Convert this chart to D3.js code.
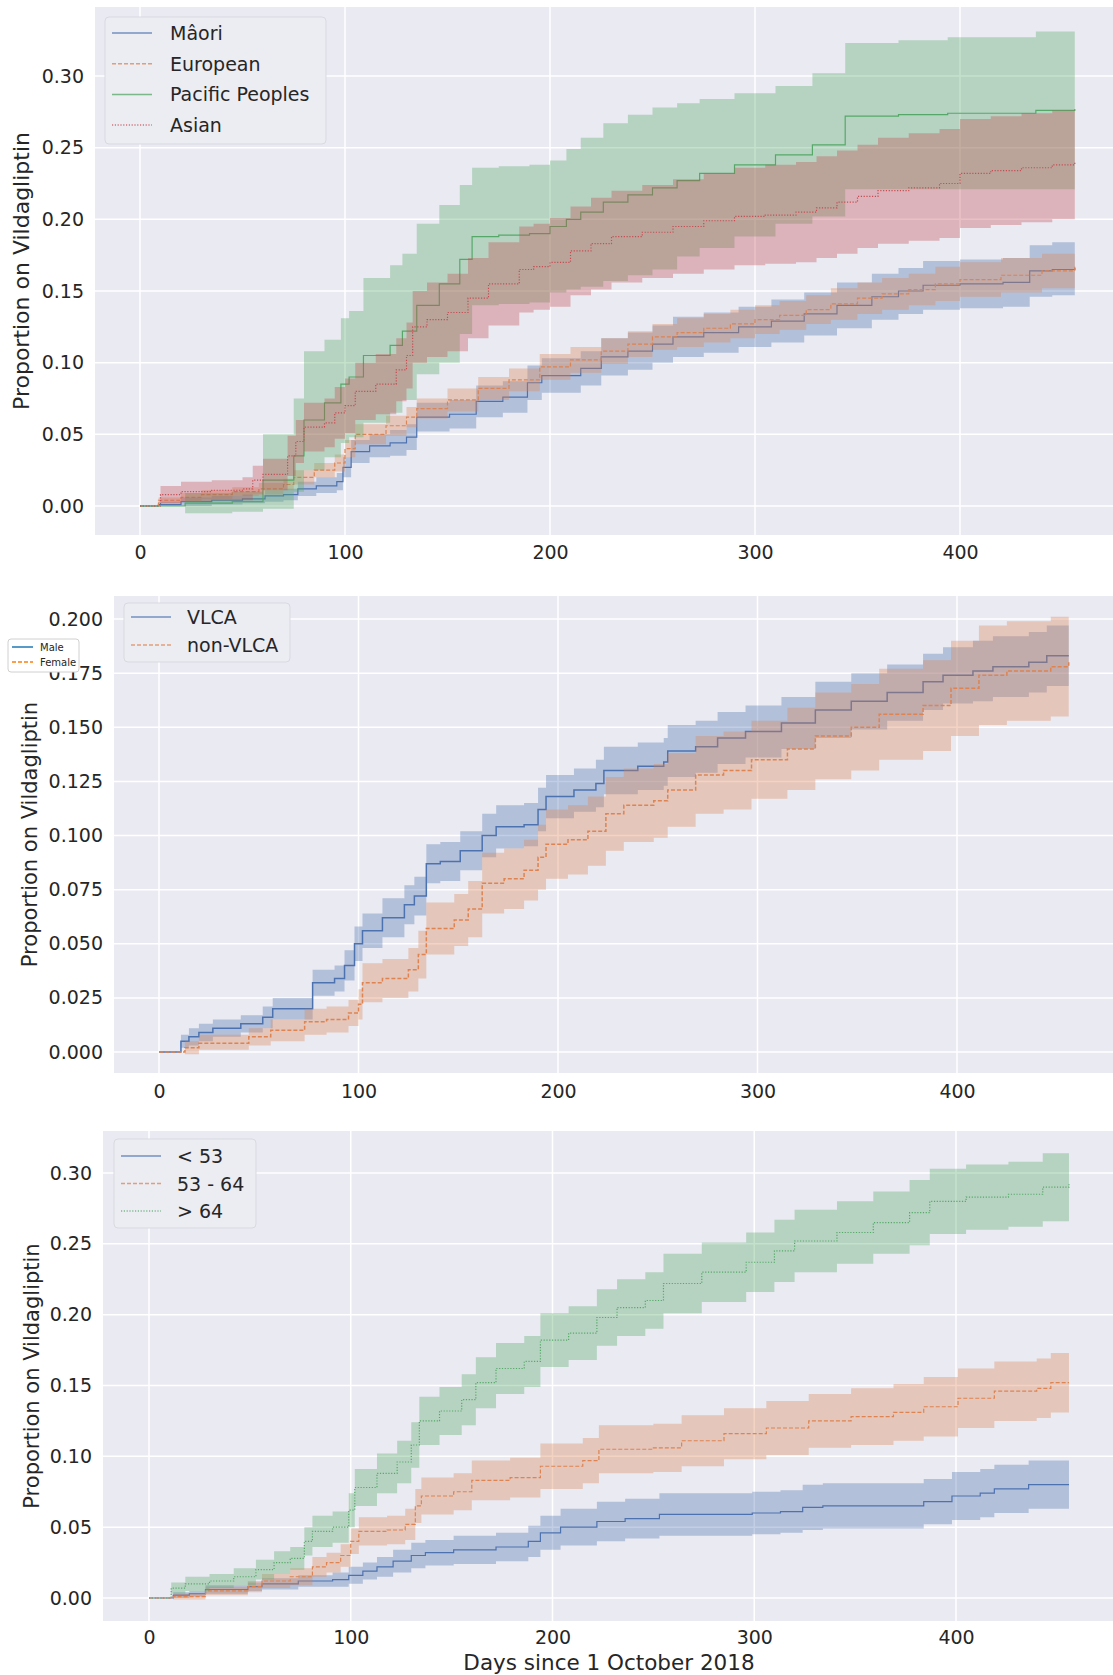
<!DOCTYPE html>
<html>
<head>
<meta charset="utf-8">
<script src="https://cdn.jsdelivr.net/npm/d3@7"></script>
<style>
  body { margin: 0; background: #fff; }
  svg text { font-family: "DejaVu Sans", sans-serif; fill: #262626; }
</style>
</head>
<body>
<div id="chart"></div>
<script>
/////////////////////////////////////////////////////////
// data : rows are [day, proportion, lower, upper]
/////////////////////////////////////////////////////////
const dayTicks = [0, 100, 200, 300, 400];
const ethnicTicks = [0, 0.05, 0.10, 0.15, 0.20, 0.25, 0.30];
const vlcaTicks = [0, 0.025, 0.05, 0.075, 0.10, 0.125, 0.15, 0.175, 0.20];
const ageTicks = [0, 0.05, 0.10, 0.15, 0.20, 0.25, 0.30];

const ethnicGroups = ["Mâori", "European", "Pacific Peoples", "Asian"];
const vlcaGroups = ["VLCA", "non-VLCA"];
const ageGroups = ["< 53", "53 - 64", "> 64"];
const sexGroups = ["Male", "Female"];

const maori = [
  [0,0,0,0],[9,0.001,0,0.003],[20,0.003,0,0.006],[35,0.004,0.001,0.007],
  [50,0.005,0.002,0.008],[61,0.007,0.003,0.011],[70,0.008,0.004,0.012],
  [77,0.012,0.007,0.017],[86,0.014,0.009,0.020],[96,0.017,0.011,0.023],
  [99,0.027,0.020,0.034],[103,0.038,0.030,0.046],[112,0.042,0.034,0.050],
  [122,0.044,0.035,0.053],[130,0.048,0.039,0.057],[135,0.062,0.052,0.072],
  [151,0.064,0.054,0.074],[164,0.073,0.062,0.084],[177,0.076,0.065,0.087],
  [189,0.086,0.074,0.098],[196,0.091,0.079,0.103],[215,0.096,0.084,0.108],
  [225,0.104,0.091,0.117],[238,0.108,0.095,0.121],[250,0.113,0.100,0.126],
  [260,0.118,0.104,0.132],[275,0.121,0.107,0.135],[292,0.125,0.111,0.139],
  [308,0.129,0.114,0.144],[324,0.134,0.119,0.149],[340,0.140,0.124,0.156],
  [357,0.146,0.130,0.162],[370,0.150,0.134,0.166],[382,0.154,0.137,0.171],
  [400,0.155,0.138,0.172],[421,0.156,0.139,0.173],[434,0.164,0.146,0.182],
  [445,0.165,0.147,0.184],[456,0.166,0.147,0.185]
];
const european = [
  [0,0,0,0],[9,0.004,0.002,0.006],[20,0.006,0.003,0.009],[30,0.008,0.005,0.011],
  [45,0.010,0.007,0.013],[58,0.012,0.008,0.016],[70,0.015,0.011,0.019],
  [75,0.020,0.015,0.025],[85,0.025,0.020,0.030],[95,0.030,0.024,0.036],
  [100,0.040,0.034,0.046],[105,0.050,0.043,0.057],[120,0.056,0.049,0.063],
  [130,0.062,0.055,0.069],[135,0.068,0.061,0.075],[150,0.074,0.066,0.082],
  [165,0.082,0.074,0.090],[180,0.088,0.080,0.096],[195,0.097,0.088,0.106],
  [210,0.102,0.093,0.111],[225,0.108,0.099,0.117],[238,0.113,0.104,0.122],
  [250,0.118,0.109,0.127],[262,0.121,0.111,0.131],[275,0.124,0.114,0.134],
  [288,0.127,0.117,0.137],[300,0.130,0.120,0.140],[312,0.133,0.123,0.143],
  [325,0.137,0.127,0.147],[337,0.141,0.130,0.152],[350,0.145,0.134,0.156],
  [362,0.148,0.137,0.159],[375,0.151,0.140,0.162],[388,0.155,0.143,0.167],
  [400,0.158,0.146,0.170],[420,0.161,0.149,0.173],[440,0.164,0.152,0.176],
  [456,0.167,0.155,0.179]
];
const pacific = [
  [0,0,0,0],[22,0.002,-0.005,0.009],[45,0.003,-0.004,0.010],[60,0.018,-0.002,0.050],
  [75,0.035,0.010,0.075],[80,0.060,0.025,0.108],[90,0.072,0.034,0.116],
  [98,0.085,0.044,0.131],[102,0.090,0.048,0.136],[109,0.105,0.058,0.159],
  [122,0.112,0.065,0.168],[128,0.122,0.074,0.176],[135,0.140,0.092,0.197],
  [146,0.155,0.100,0.210],[156,0.172,0.120,0.224],[162,0.188,0.140,0.236],
  [175,0.189,0.141,0.237],[190,0.190,0.142,0.238],[200,0.195,0.149,0.241],
  [208,0.200,0.151,0.249],[215,0.205,0.153,0.257],[226,0.212,0.157,0.267],
  [238,0.217,0.161,0.273],[250,0.222,0.165,0.278],[262,0.227,0.174,0.281],
  [273,0.232,0.180,0.284],[290,0.238,0.188,0.288],[310,0.245,0.197,0.293],
  [328,0.252,0.202,0.302],[344,0.272,0.221,0.323],[370,0.273,0.221,0.325],
  [394,0.274,0.221,0.327],[437,0.276,0.221,0.331],[456,0.277,0.222,0.332]
];
const asian = [
  [0,0,0,0],[10,0.008,0.002,0.014],[20,0.010,0.003,0.017],[35,0.011,0.004,0.018],
  [50,0.012,0.004,0.020],[55,0.018,0.008,0.028],[60,0.022,0.011,0.033],
  [72,0.035,0.021,0.049],[76,0.045,0.030,0.060],[80,0.055,0.038,0.072],
  [90,0.058,0.041,0.075],[95,0.065,0.047,0.083],[100,0.070,0.051,0.089],
  [105,0.080,0.060,0.100],[115,0.085,0.064,0.106],[125,0.095,0.073,0.117],
  [130,0.105,0.082,0.128],[133,0.125,0.100,0.150],[140,0.130,0.104,0.156],
  [150,0.135,0.108,0.162],[160,0.145,0.117,0.173],[170,0.155,0.126,0.184],
  [185,0.165,0.135,0.195],[192,0.167,0.137,0.197],[200,0.170,0.139,0.201],
  [210,0.178,0.147,0.209],[220,0.183,0.151,0.215],[230,0.188,0.156,0.220],
  [245,0.191,0.159,0.224],[260,0.195,0.162,0.228],[275,0.199,0.165,0.232],
  [290,0.202,0.168,0.236],[305,0.203,0.169,0.238],[320,0.205,0.170,0.240],
  [330,0.208,0.173,0.244],[340,0.212,0.176,0.248],[350,0.216,0.180,0.252],
  [360,0.220,0.183,0.257],[375,0.222,0.185,0.260],[390,0.225,0.187,0.263],
  [400,0.232,0.194,0.270],[415,0.234,0.196,0.272],[430,0.236,0.198,0.274],
  [445,0.238,0.200,0.276],[456,0.240,0.202,0.278]
];

const vlca = [
  [0,0,0,0],[11,0.005,0.002,0.008],[15,0.007,0.003,0.011],[20,0.009,0.005,0.013],
  [27,0.011,0.007,0.015],[41,0.013,0.009,0.017],[52,0.016,0.011,0.021],
  [57,0.020,0.015,0.025],[70,0.020,0.015,0.025],[77,0.032,0.026,0.038],
  [88,0.034,0.028,0.040],[93,0.040,0.033,0.047],[98,0.050,0.042,0.058],
  [102,0.056,0.048,0.064],[112,0.062,0.053,0.071],[123,0.068,0.059,0.077],
  [128,0.072,0.063,0.081],[134,0.087,0.078,0.096],[141,0.088,0.079,0.097],
  [151,0.093,0.084,0.102],[162,0.100,0.090,0.110],[169,0.104,0.094,0.114],
  [183,0.105,0.095,0.115],[190,0.112,0.102,0.122],[194,0.118,0.108,0.128],
  [208,0.121,0.111,0.131],[219,0.124,0.113,0.135],[223,0.130,0.119,0.141],
  [240,0.132,0.121,0.143],[253,0.134,0.123,0.145],[255,0.139,0.127,0.151],
  [269,0.141,0.129,0.153],[280,0.145,0.133,0.157],[294,0.148,0.136,0.160],
  [312,0.152,0.140,0.164],[329,0.158,0.145,0.171],[347,0.162,0.149,0.175],
  [365,0.166,0.153,0.179],[383,0.171,0.158,0.184],[393,0.174,0.161,0.187],
  [408,0.176,0.162,0.190],[418,0.178,0.164,0.192],[436,0.180,0.166,0.194],
  [445,0.183,0.169,0.197],[456,0.183,0.169,0.197]
];
const nonVlca = [
  [0,0,0,0],[13,0.002,-0.001,0.005],[20,0.004,0.001,0.008],[45,0.007,0.003,0.011],
  [56,0.010,0.005,0.015],[73,0.014,0.008,0.020],[84,0.015,0.009,0.021],
  [95,0.018,0.012,0.024],[100,0.022,0.015,0.029],[102,0.032,0.023,0.041],
  [112,0.034,0.025,0.043],[125,0.038,0.028,0.048],[130,0.045,0.034,0.056],
  [134,0.057,0.045,0.069],[148,0.061,0.049,0.073],[155,0.066,0.053,0.079],
  [162,0.078,0.064,0.092],[173,0.080,0.066,0.094],[183,0.084,0.070,0.098],
  [190,0.090,0.075,0.105],[194,0.096,0.080,0.112],[205,0.098,0.082,0.114],
  [215,0.102,0.086,0.118],[224,0.110,0.093,0.127],[233,0.114,0.097,0.131],
  [248,0.116,0.099,0.133],[255,0.121,0.104,0.138],[269,0.128,0.110,0.146],
  [283,0.130,0.112,0.148],[297,0.135,0.117,0.153],[315,0.140,0.121,0.159],
  [329,0.146,0.126,0.166],[347,0.150,0.130,0.170],[361,0.156,0.135,0.177],
  [383,0.160,0.139,0.181],[397,0.168,0.146,0.190],[411,0.174,0.151,0.197],
  [425,0.176,0.153,0.199],[447,0.178,0.155,0.201],[456,0.180,0.157,0.203]
];

const ageUnder53 = [
  [0,0,0,0],[12,0.002,0,0.004],[20,0.003,0.001,0.005],[28,0.006,0.003,0.009],
  [49,0.008,0.005,0.011],[56,0.010,0.006,0.014],[74,0.012,0.008,0.016],
  [91,0.013,0.008,0.018],[99,0.016,0.010,0.022],[106,0.019,0.013,0.025],
  [113,0.022,0.015,0.029],[121,0.026,0.018,0.034],[130,0.030,0.021,0.039],
  [137,0.032,0.023,0.041],[151,0.034,0.024,0.044],[172,0.036,0.026,0.046],
  [188,0.040,0.029,0.051],[194,0.046,0.034,0.058],[204,0.050,0.037,0.063],
  [222,0.054,0.040,0.068],[236,0.056,0.042,0.070],[253,0.059,0.044,0.074],
  [299,0.060,0.045,0.075],[313,0.061,0.046,0.076],[324,0.064,0.048,0.080],
  [334,0.065,0.049,0.081],[384,0.068,0.052,0.084],[398,0.072,0.055,0.089],
  [412,0.074,0.057,0.091],[419,0.077,0.060,0.094],[436,0.080,0.063,0.097],
  [456,0.080,0.063,0.097]
];
const age53to64 = [
  [0,0,0,0],[12,0.001,-0.001,0.003],[28,0.005,0.002,0.008],[49,0.008,0.004,0.012],
  [56,0.012,0.007,0.017],[70,0.015,0.009,0.021],[81,0.022,0.015,0.029],
  [88,0.025,0.018,0.032],[95,0.030,0.022,0.038],[100,0.040,0.031,0.049],
  [104,0.047,0.037,0.057],[118,0.048,0.038,0.058],[127,0.052,0.041,0.063],
  [132,0.065,0.053,0.077],[135,0.072,0.059,0.085],[151,0.075,0.062,0.088],
  [160,0.083,0.069,0.097],[179,0.085,0.071,0.099],[194,0.093,0.077,0.109],
  [215,0.097,0.081,0.113],[223,0.105,0.088,0.122],[250,0.106,0.089,0.123],
  [264,0.111,0.093,0.129],[285,0.116,0.098,0.134],[306,0.120,0.101,0.139],
  [327,0.125,0.106,0.144],[348,0.128,0.108,0.148],[369,0.131,0.111,0.151],
  [384,0.135,0.114,0.156],[401,0.141,0.120,0.162],[419,0.146,0.125,0.167],
  [440,0.148,0.127,0.169],[447,0.152,0.131,0.173],[456,0.152,0.131,0.173]
];
const ageOver64 = [
  [0,0,0,0],[11,0.007,0.003,0.011],[18,0.010,0.005,0.015],[30,0.012,0.007,0.017],
  [42,0.015,0.009,0.021],[53,0.020,0.013,0.027],[62,0.025,0.017,0.033],
  [70,0.028,0.020,0.036],[77,0.040,0.030,0.050],[81,0.047,0.036,0.058],
  [91,0.050,0.039,0.061],[99,0.062,0.050,0.074],[102,0.078,0.065,0.091],
  [113,0.088,0.074,0.102],[123,0.096,0.081,0.111],[130,0.108,0.092,0.124],
  [134,0.125,0.108,0.142],[144,0.132,0.115,0.149],[155,0.140,0.122,0.158],
  [162,0.152,0.134,0.170],[172,0.162,0.144,0.180],[186,0.167,0.149,0.185],
  [194,0.182,0.163,0.201],[208,0.187,0.168,0.206],[222,0.198,0.178,0.218],
  [232,0.205,0.185,0.225],[246,0.210,0.190,0.230],[255,0.222,0.201,0.243],
  [274,0.230,0.209,0.251],[296,0.237,0.216,0.258],[310,0.245,0.223,0.267],
  [320,0.252,0.230,0.274],[341,0.258,0.236,0.280],[359,0.265,0.243,0.287],
  [377,0.272,0.249,0.295],[387,0.280,0.257,0.303],[405,0.283,0.260,0.306],
  [426,0.285,0.262,0.308],[443,0.290,0.266,0.314],[456,0.292,0.268,0.316]
];

/////////////////////////////////////////////////////////
// styles
/////////////////////////////////////////////////////////
const deep = ["#4C72B0", "#DD8452", "#55A868", "#C44E52"];
const DASH = "4,2", DOT = "1.2,1.6";

const svg = d3.select("#chart").append("svg")
  .attr("width", 1113).attr("height", 1675);

/////////////////////////////////////////////////////////
// one panel
/////////////////////////////////////////////////////////
function drawPanel (p) {

  const x = d3.scaleLinear().domain([0, 400]).range(p.xr);
  const y = d3.scaleLinear().domain([0, p.yTicks[p.yTicks.length - 1]]).range(p.yr);
  const g = svg.append("g");

  g.append("rect")
    .attr("x", p.left).attr("y", p.top)
    .attr("width", p.right - p.left).attr("height", p.bottom - p.top)
    .attr("fill", "#eaeaf2");

  const clipId = "clip" + p.id;
  g.append("clipPath").attr("id", clipId).append("rect")
    .attr("x", p.left).attr("y", p.top)
    .attr("width", p.right - p.left).attr("height", p.bottom - p.top);

  // grid
  g.selectAll(".vg").data(dayTicks).enter().append("line")
    .attr("x1", d => x(d)).attr("x2", d => x(d))
    .attr("y1", p.top).attr("y2", p.bottom)
    .attr("stroke", "#fff").attr("stroke-width", 1.5);
  g.selectAll(".hg").data(p.yTicks).enter().append("line")
    .attr("x1", p.left).attr("x2", p.right)
    .attr("y1", d => y(d)).attr("y2", d => y(d))
    .attr("stroke", "#fff").attr("stroke-width", 1.5);

  // axes (labels only)
  const xa = g.append("g").attr("transform", `translate(0,${p.bottom})`)
    .call(d3.axisBottom(x).tickValues(dayTicks).tickSize(0).tickPadding(p.xPad));
  const ya = g.append("g").attr("transform", `translate(${p.left},0)`)
    .call(d3.axisLeft(y).tickValues(p.yTicks).tickSize(0).tickPadding(11)
      .tickFormat(d3.format(p.yFmt)));
  [xa, ya].forEach(a => {
    a.select(".domain").remove();
    a.selectAll("text").attr("font-size", 19).attr("fill", "#262626")
      .attr("font-family", "DejaVu Sans, sans-serif");
  });

  // bands and lines
  const plot = g.append("g").attr("clip-path", `url(#${clipId})`);
  const area = d3.area().curve(d3.curveStepAfter)
    .x(d => x(d[0])).y0(d => y(d[2])).y1(d => y(d[3]));
  const line = d3.line().curve(d3.curveStepAfter)
    .x(d => x(d[0])).y(d => y(d[1]));

  p.series.forEach((s, i) => {
    plot.append("path").datum(s.data)
      .attr("d", line).attr("fill", "none")
      .attr("stroke", deep[i]).attr("stroke-width", p.lw)
      .attr("stroke-dasharray", s.dash);
    plot.append("path").datum(s.data)
      .attr("d", area).attr("fill", deep[i]).attr("fill-opacity", 0.35);
  });

  // y label
  g.append("text")
    .attr("transform", `translate(${p.yLabX},${(p.top + p.bottom) / 2}) rotate(-90)`)
    .attr("text-anchor", "middle").attr("dominant-baseline", "central")
    .attr("font-size", p.yLabSize).text("Proportion on Vildagliptin");

  // legend
  const L = p.legend;
  const lg = g.append("g");
  lg.append("rect")
    .attr("x", L.x).attr("y", L.y).attr("width", L.w).attr("height", L.h)
    .attr("rx", 4).attr("fill", "#ececf3").attr("stroke", "#d9d9e1");
  p.series.forEach((s, i) => {
    const yy = L.y + L.first + i * L.step;
    lg.append("line")
      .attr("x1", L.x + 7).attr("x2", L.x + 47).attr("y1", yy).attr("y2", yy)
      .attr("stroke", deep[i]).attr("stroke-width", 1.5).attr("stroke-opacity", 0.75)
      .attr("stroke-dasharray", s.dash);
    lg.append("text")
      .attr("x", L.x + L.tx).attr("y", yy).attr("dominant-baseline", "central")
      .attr("font-size", 19).text(s.name);
  });

  return { x, y };
}

/////////////////////////////////////////////////////////
// panels
/////////////////////////////////////////////////////////
drawPanel({
  id: 1, left: 95, right: 1113, top: 7, bottom: 535,
  xr: [140, 960], yr: [506, 76], yTicks: ethnicTicks, yFmt: ".2f",
  xPad: 11, lw: 1.2, yLabX: 21, yLabSize: 22,
  series: [
    { name: ethnicGroups[0], data: maori, dash: null },
    { name: ethnicGroups[1], data: european, dash: DASH },
    { name: ethnicGroups[2], data: pacific, dash: null },
    { name: ethnicGroups[3], data: asian, dash: DOT }
  ],
  legend: { x: 105, y: 17, w: 221, h: 127, first: 16, step: 30.7, tx: 65 }
});

drawPanel({
  id: 2, left: 114, right: 1113, top: 596, bottom: 1073,
  xr: [159, 957], yr: [1052, 619], yTicks: vlcaTicks, yFmt: ".3f",
  xPad: 12, lw: 1.5, yLabX: 30, yLabSize: 21,
  series: [
    { name: vlcaGroups[0], data: vlca, dash: null },
    { name: vlcaGroups[1], data: nonVlca, dash: DASH }
  ],
  legend: { x: 124, y: 603, w: 166, h: 59, first: 14, step: 28, tx: 63 }
});

drawPanel({
  id: 3, left: 103, right: 1113, top: 1131, bottom: 1621,
  xr: [149, 956], yr: [1598, 1173], yTicks: ageTicks, yFmt: ".2f",
  xPad: 10, lw: 1.2, yLabX: 32, yLabSize: 21,
  series: [
    { name: ageGroups[0], data: ageUnder53, dash: null },
    { name: ageGroups[1], data: age53to64, dash: DASH },
    { name: ageGroups[2], data: ageOver64, dash: DOT }
  ],
  legend: { x: 114, y: 1139, w: 142, h: 89, first: 17, step: 27.5, tx: 63 }
});

// x label under last panel
svg.append("text")
  .attr("x", 609).attr("y", 1662)
  .attr("text-anchor", "middle").attr("dominant-baseline", "central")
  .attr("font-size", 21.5).text("Days since 1 October 2018");

// stray small legend left of panel 2 (it sits over the 0.175 tick, as in the source)
const sexColors = ["#1f77b4", "#ff7f0e"];
const sl = svg.append("g");
sl.append("rect").attr("x", 8).attr("y", 639).attr("width", 71).attr("height", 33)
  .attr("rx", 3).attr("fill", "#fff").attr("stroke", "#d0d0d0");
sexGroups.forEach((s, i) => {
  const yy = 647 + i * 15;
  sl.append("line").attr("x1", 12).attr("x2", 33).attr("y1", yy).attr("y2", yy)
    .attr("stroke", sexColors[i]).attr("stroke-width", 1.5)
    .attr("stroke-dasharray", i ? "4,2" : null);
  sl.append("text").attr("x", 40).attr("y", yy).attr("dominant-baseline", "central")
    .attr("font-size", 10).text(s);
});
</script>
</body>
</html>
